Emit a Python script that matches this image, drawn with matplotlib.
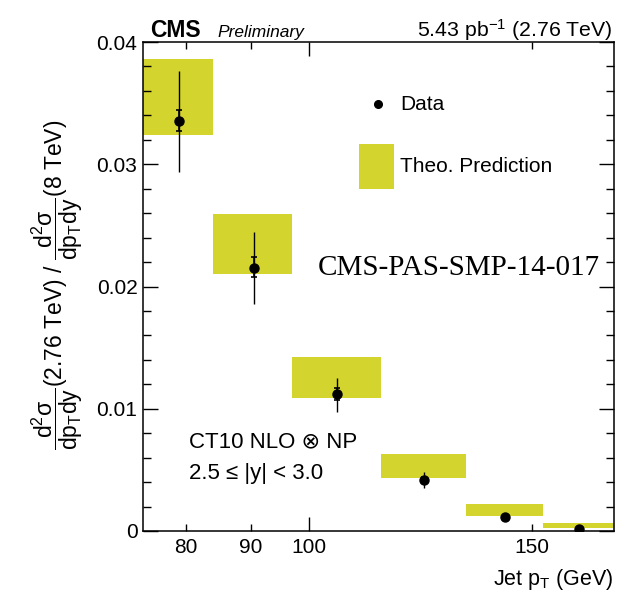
import numpy as np
import matplotlib
matplotlib.use('Agg')
import matplotlib.pyplot as plt
from matplotlib.lines import Line2D
from matplotlib.patches import Rectangle

plt.rcParams['font.family'] = ['Liberation Sans', 'DejaVu Sans']
plt.rcParams['mathtext.fontset'] = 'custom'
plt.rcParams['mathtext.rm'] = 'Liberation Sans'
plt.rcParams['mathtext.it'] = 'Liberation Sans:italic'
plt.rcParams['mathtext.bf'] = 'Liberation Sans:bold'

# jet pT bins and values
bin_edges = [74, 84, 97, 114, 133, 153, 174]
pt_centers = [79.0, 90.5, 105.3, 123.3, 142.7, 163.2]
ratio = [0.03354, 0.02154, 0.01118, 0.00417, 0.00112, 0.00014]
stat_lo = [0.03270, 0.02075, 0.01072, 0.00395, 0.00105, 0.00012]
stat_hi = [0.03440, 0.02239, 0.01167, 0.00440, 0.00119, 0.00016]
tot_lo = [0.02934, 0.01854, 0.00976, 0.00350, 0.00095, 0.00010]
tot_hi = [0.03763, 0.02448, 0.01252, 0.00480, 0.00130, 0.00018]
theo_lo = [0.03237, 0.02102, 0.01090, 0.00431, 0.00123, 0.00025]
theo_hi = [0.03858, 0.02591, 0.01421, 0.00627, 0.00221, 0.00063]

yellow = '#d4d42e'

fig = plt.figure(figsize=(6.21, 5.94), dpi=100)
ax = fig.add_axes([143/621, 1 - 531/594, (614-143)/621, (531-42)/594])

# theory boxes
for i in range(len(ratio)):
    ax.fill_between([bin_edges[i], bin_edges[i+1]], theo_lo[i], theo_hi[i],
                    color=yellow, lw=0, zorder=1)

# data
x = np.array(pt_centers)
y = np.array(ratio)
ax.errorbar(x, y, yerr=[y - np.array(tot_lo), np.array(tot_hi) - y], fmt='none',
            ecolor='black', elinewidth=1.0, capsize=0, zorder=3)
ax.errorbar(x, y, yerr=[y - np.array(stat_lo), np.array(stat_hi) - y], fmt='o',
            color='black', ms=6.5, elinewidth=1.2, capsize=2.5, capthick=1.2, zorder=4)

ax.set_xscale('log')
ax.set_xlim(74, 174)
ax.set_ylim(0, 0.04)

ax.xaxis.set_major_locator(matplotlib.ticker.FixedLocator([100]))
ax.xaxis.set_minor_locator(matplotlib.ticker.FixedLocator([80, 90, 150]))
ax.xaxis.set_major_formatter(matplotlib.ticker.FixedFormatter(['100']))
ax.xaxis.set_minor_formatter(matplotlib.ticker.FixedFormatter(['80', '90', '150']))
ax.set_yticks([0, 0.01, 0.02, 0.03, 0.04])
ax.set_yticklabels(['0', '0.01', '0.02', '0.03', '0.04'])
ax.yaxis.set_minor_locator(matplotlib.ticker.MultipleLocator(0.002))

ax.tick_params(axis='x', which='major', direction='in', top=True, length=10, width=1.0,
               labelsize=15, pad=5)
ax.tick_params(axis='x', which='minor', direction='in', top=True, length=5, width=1.0,
               labelsize=15, pad=5)
ax.tick_params(axis='y', which='major', direction='in', right=True, length=11, width=1.0,
               labelsize=15, pad=4)
ax.tick_params(axis='y', which='minor', direction='in', right=True, length=6, width=1.0)
for s in ax.spines.values():
    s.set_linewidth(1.1)

ax.set_xlabel('Jet p$_\\mathrm{T}$ (GeV)', fontsize=15.5, ha='right', x=1.0, labelpad=7)
fig.text(57/621, 1 - 285/594,
         r'$\dfrac{\mathrm{d^2\sigma}}{\mathrm{dp_T dy}}$(2.76 TeV) / $\dfrac{\mathrm{d^2\sigma}}{\mathrm{dp_T dy}}$(8 TeV)',
         rotation=90, ha='center', va='center', fontsize=16.5)

# header texts
fig.text(150/621, 1 - 37/594, 'CMS', fontsize=16.5, fontweight='bold', va='baseline')
fig.text(217/621, 1 - 37/594, 'Preliminary', fontsize=12.5, style='italic', va='baseline')
fig.text(613/621, 1 - 37/594, '5.43 pb$^{-1}$ (2.76 TeV)', fontsize=15.3, ha='right', va='baseline')

# legend (drawn by hand)
fig.lines.append(Line2D([378/621], [1 - 104/594], marker='o', color='black', ms=5.5,
                        ls='none', transform=fig.transFigure))
fig.text(400/621, 1 - 104/594, 'Data', fontsize=15, va='center')
fig.patches.append(Rectangle((359/621, 1 - 189/594), 35/621, 45/594,
                   transform=fig.transFigure, color=yellow, lw=0))
fig.text(400/621, 1 - 167/594, 'Theo. Prediction', fontsize=15, va='center')

fig.text(600/621, 1 - 268/594, 'CMS-PAS-SMP-14-017', fontsize=21, ha='right', va='center',
         family='Liberation Serif')

fig.text(189/621, 1 - 442/594, 'CT10 NLO \u2297 NP', fontsize=16, va='center')
fig.text(189/621, 1 - 474/594, '2.5 \u2264 |y| < 3.0', fontsize=16, va='center')

fig.savefig('out.png', dpi=100)
